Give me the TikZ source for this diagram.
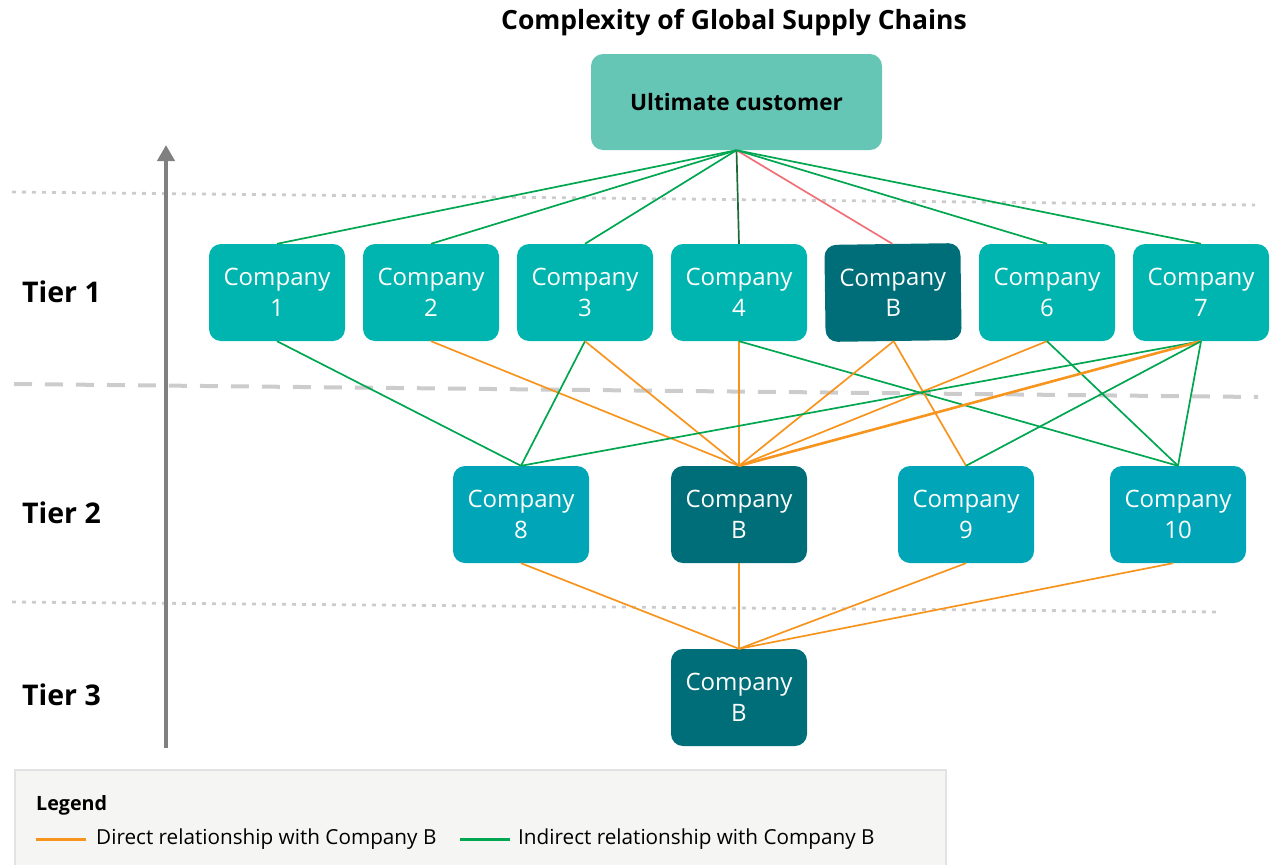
\documentclass[tikz,border=0pt]{standalone}
\usepackage{fontspec}
\setmainfont{Open Sans}
\usetikzlibrary{arrows.meta}
\definecolor{ultc}{HTML}{66C6B5}
\definecolor{tonec}{HTML}{00B5B0}
\definecolor{ttwoc}{HTML}{00A5B7}
\definecolor{bc}{HTML}{006E78}
\definecolor{grn}{HTML}{00A650}
\definecolor{dgrn}{HTML}{1E6B3A}
\definecolor{org}{HTML}{F7941D}
\definecolor{redl}{HTML}{F07078}
\definecolor{guide}{HTML}{CCCCCC}
\definecolor{legfill}{HTML}{F5F5F3}
\definecolor{legdraw}{HTML}{E2E2E2}
\tikzset{
  cbox/.style={rounded corners=12pt, minimum width=136pt, minimum height=97pt,
    align=center, text=white, font=\fontsize{24}{31}\selectfont, inner sep=0pt},
  tone/.style={cbox, fill=tonec},
  ttwo/.style={cbox, fill=ttwoc},
  bbox/.style={cbox, fill=bc},
  gline/.style={grn, line width=1.7pt},
  oline/.style={org, line width=1.7pt},
  tierlab/.style={anchor=west, inner sep=0pt, font=\fontsize{28.5}{32}\selectfont\bfseries},
  legtext/.style={anchor=west, inner sep=0pt, font=\fontsize{20.7}{24}\selectfont},
}
\begin{document}
\begin{tikzpicture}[x=1pt,y=-1pt]
\useasboundingbox (0,0) rectangle (1270,865);
% legend background
\draw[fill=legfill, draw=legdraw, line width=1.5pt] (15,770) rectangle (946,875);
% guide lines
\draw[guide, line width=2.8pt, dash pattern=on 4pt off 6pt] (12,192) -- (1255,205);
\draw[guide, line width=4pt, dash pattern=on 18pt off 13pt] (14,384) -- (1258,397);
\draw[guide, line width=2.8pt, dash pattern=on 4pt off 6pt] (12,602) -- (1220,612);
% axis arrow
\coordinate (abot) at (166,748);
\coordinate (atop) at (166,145);
\draw[gray, line width=4pt, -{Triangle[width=17pt,length=16pt]}] (abot) -- (atop);
% title
\node[font=\fontsize{26.5}{30}\selectfont\bfseries] (title) at (734,23) {Complexity of Global Supply Chains};
% nodes
\node[cbox, fill=ultc, text=black, minimum width=291pt, minimum height=96pt,
  font=\fontsize{22.6}{26}\selectfont\bfseries] (ult) at (736.5,102) {Ultimate customer};
\node[tone] (c1) at (277,292.5) {Company\\1};
\node[tone] (c2) at (431,292.5) {Company\\2};
\node[tone] (c3) at (585,292.5) {Company\\3};
\node[tone] (c4) at (739,292.5) {Company\\4};
\node[bbox, rotate=0.8] (b1) at (893,292.5) {Company\\B};
\node[tone] (c6) at (1047,292.5) {Company\\6};
\node[tone] (c7) at (1201,292.5) {Company\\7};
\node[ttwo] (c8) at (521,514.5) {Company\\8};
\node[bbox] (b2) at (739,514.5) {Company\\B};
\node[ttwo] (c9) at (966,514.5) {Company\\9};
\node[ttwo] (c10) at (1178,514.5) {Company\\10};
\node[bbox] (b3) at (739,697.5) {Company\\B};
% tier labels
\node[tierlab] (t1) at (22,292) {Tier 1};
\node[tierlab] (t2) at (22,513) {Tier 2};
\node[tierlab] (t3) at (22,695) {Tier 3};
% ultimate customer to tier 1
\draw[gline] (ult.south) -- (c1.north);
\draw[gline] (ult.south) -- (c2.north);
\draw[gline] (ult.south) -- (c3.north);
\draw[dgrn, line width=1.7pt] (ult.south) -- (c4.north);
\draw[redl, line width=1.7pt] (ult.south) -- (b1.north);
\draw[gline] (ult.south) -- (c6.north);
\draw[gline] (ult.south) -- (c7.north);
% tier 1 to tier 2
\draw[gline] (c1.south) -- (c8.north);
\draw[oline] (c2.south) -- (b2.north);
\draw[gline] (c3.south) -- (c8.north);
\draw[oline] (c3.south) -- (b2.north);
\draw[oline] (c4.south) -- (b2.north);
\draw[gline] (c4.south) -- (c10.north);
\draw[oline] (b1.south) -- (b2.north);
\draw[oline] (b1.south) -- (c9.north);
\draw[oline] (c6.south) -- (b2.north);
\draw[gline] (c6.south) -- (c10.north);
\draw[gline] (c7.south) -- (c8.north);
\draw[org, line width=2.6pt] (c7.south) -- (b2.north);
\draw[gline] (c7.south) -- (c9.north);
\draw[gline] (c7.south) -- (c10.north);
% tier 2 to tier 3
\draw[oline] (c8.south) -- (b3.north);
\draw[oline] (b2.south) -- (b3.north);
\draw[oline] (c9.south) -- (b3.north);
\draw[oline] ([xshift=-5pt]c10.south) -- (b3.north);
% legend
\node[anchor=west, inner sep=0pt, font=\fontsize{19.7}{23}\selectfont\bfseries] (legtitle) at (36,805) {Legend};
\coordinate (lo1) at (36,839);
\coordinate (lo2) at (86,839);
\draw[org, line width=3pt] (lo1) -- (lo2);
\node[legtext] (ldir) at (96,839) {Direct relationship with Company B};
\coordinate (lg1) at (460,839);
\coordinate (lg2) at (510,839);
\draw[grn, line width=3pt] (lg1) -- (lg2);
\node[legtext] (lind) at (518,839) {Indirect relationship with Company B};
\end{tikzpicture}
\end{document}
